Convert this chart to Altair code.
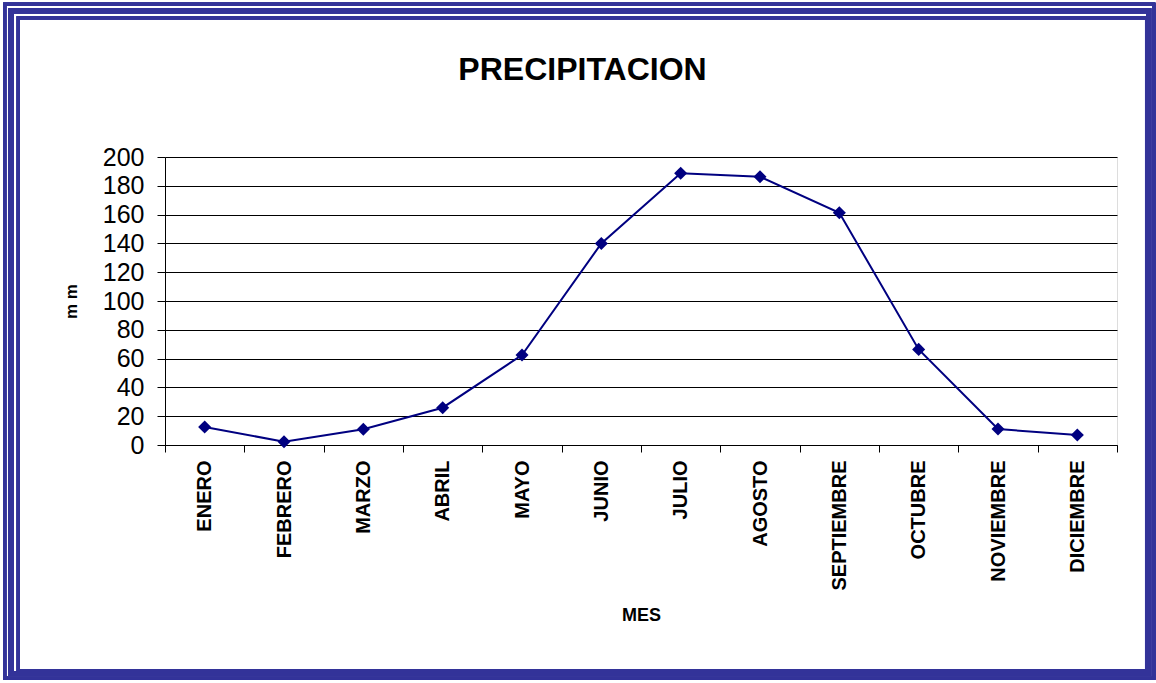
import altair as alt
import pandas as pd

# Monthly precipitation (mm)
meses = ["ENERO", "FEBRERO", "MARZO", "ABRIL", "MAYO", "JUNIO", "JULIO",
         "AGOSTO", "SEPTIEMBRE", "OCTUBRE", "NOVIEMBRE", "DICIEMBRE"]
precipitacion = [12.5, 2.3, 10.9, 25.9, 62.5, 140.0, 188.7, 186.3, 161.3, 66.4, 11.1, 6.9]
y_ticks = [0, 20, 40, 60, 80, 100, 120, 140, 160, 180, 200]

df = pd.DataFrame({"mes": meses, "mm": precipitacion})

W, H = 952, 288          # plot area
LEFT, TOP = 165, 157     # plot area offset in page
NAVY = "#000080"
FRAME = "#333399"

x_enc = alt.X(
    "mes:N", sort=meses,
    scale=alt.Scale(paddingInner=0, paddingOuter=0),
    axis=alt.Axis(
        title="MES", labelAngle=-90, labelAlign="right", labelBaseline="middle",
        labelFont="Liberation Sans", labelFontWeight="bold",
        labelFontSize=20, labelColor="black", labelPadding=8,
        tickBand="extent", tickSize=7, tickColor="black", domainColor="black",
        grid=False, titleFont="Liberation Sans", titleFontWeight="bold",
        titleFontSize=18, titleColor="black", titleX=W / 2, titleY=170,
        titleBaseline="middle", titleAlign="center",
    ),
)
y_enc = alt.Y(
    "mm:Q",
    scale=alt.Scale(domain=[0, 200], nice=False, zero=True),
    axis=alt.Axis(
        title="m m", values=y_ticks, tickCount=11, labelOverlap=False,
        labelFont="Liberation Sans", labelFontSize=25, labelColor="black",
        labelPadding=13, tickSize=8, tickColor="black", domainColor="black",
        gridColor="black", gridOpacity=1, gridWidth=1,
        titleFont="Liberation Sans", titleFontWeight="bold", titleFontSize=17,
        titleColor="black", titleAngle=-90, titleX=-94, titleY=H / 2,
        titleBaseline="middle", titleAlign="center",
    ),
)

base = alt.Chart(df).encode(x=x_enc, y=y_enc)
line = base.mark_line(color=NAVY, strokeWidth=2)
pts = base.mark_point(shape="diamond", filled=True, size=170, color=NAVY, opacity=1)


def frame(x0, y0, x1, y1, sw):
    """Stroked rectangle in page pixels, drawn relative to the plot origin."""
    return alt.Chart(df).mark_rect(fill=None, stroke=FRAME, strokeWidth=sw, clip=False).encode(
        x=alt.value(x0 - LEFT), x2=alt.value(x1 - LEFT),
        y=alt.value(y0 - TOP), y2=alt.value(y1 - TOP),
    )


frames = (
    frame(4.7, 4.2, 1153.8, 678.3, 3)
    + frame(11.2, 10.8, 1148.7, 673.5, 5)
    + frame(18.3, 17.7, 1146.5, 670.5, 3)
)

# Chart heading, placed above the plot area
heading = alt.Chart(pd.DataFrame({"t": ["PRECIPITACION"]})).mark_text(
    font="Liberation Sans", fontWeight="bold", fontSize=32, color="black",
    align="center", baseline="alphabetic",
).encode(text="t:N", x=alt.value(582.5 - LEFT), y=alt.value(80 - TOP))

chart = (
    alt.layer(line, pts, frames, heading)
    .properties(
        width=W, height=H,
        padding={"left": LEFT, "top": TOP, "right": 1156 - LEFT - W, "bottom": 683 - TOP - H},
        autosize=alt.AutoSizeParams(type="none"),
    )
    .configure_view(stroke="black", strokeWidth=1)
    .configure(background="white")
)

chart.save("out.html", embed_options={"renderer": "svg", "actions": False})
